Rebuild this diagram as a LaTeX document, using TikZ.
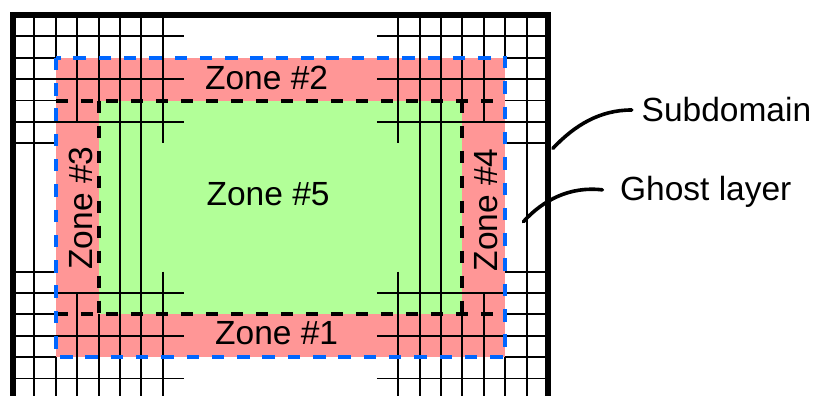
\documentclass[tikz,border=0pt]{standalone}
\usepackage{fontspec}
\setmainfont{Liberation Sans}
\definecolor{zonered}{RGB}{255,150,150}
\definecolor{zonegreen}{RGB}{178,255,152}
\definecolor{zoneblue}{RGB}{0,102,255}
\newcommand{\zonefont}{\fontsize{33.5}{40}\selectfont}
\tikzset{
  grid line/.style={line width=1.9pt, black},
  outer wall/.style={line width=5.6pt, black},
  ghost edge/.style={line width=3.6pt, draw=zoneblue, dash pattern=on 12.5pt off 12.8pt},
  zone edge/.style={line width=4pt, draw=black, dash pattern=on 12pt off 13pt},
  zone label/.style={font=\zonefont, inner sep=0pt, anchor=base},
  side label/.style={font=\zonefont, inner sep=0pt, anchor=base west},
  leader/.style={line width=3.6pt, line cap=round},
}
\begin{document}
\begin{tikzpicture}[x=21.4pt, y=-21.38pt]
  % page frame and clipping of the lower wall
  \useasboundingbox (-0.6075,-0.7016) rectangle (37.523,17.820);
  \clip (-0.6075,-0.7016) rectangle (37.523,17.820);

  % zone fills
  \fill[zonered] (2,2) rectangle (23,16);
  \fill[zonegreen] (4,4) rectangle (21,14);

  % vertical grid lines (left side and its mirror image on the right)
  \foreach \c/\ra/\rb in {1/0/18, 2/0/2, 2/16/18, 3/0/5, 3/13/18, 4/0/4, 4/14/18,
                          5/0/18, 6/0/18, 7/0/6, 7/12/18} {
    \draw[grid line] (\c,\ra) -- (\c,\rb);
    \draw[grid line] ({25-\c},\ra) -- ({25-\c},\rb);
  }
  % long horizontal grid lines
  \foreach \r in {1,3,5,13,15,17} {
    \draw[grid line] (0,\r) -- (8,\r);
    \draw[grid line] (17,\r) -- (25,\r);
  }
  % short horizontal grid lines in the ghost layer
  \foreach \r in {2,4,6,12,14,16} {
    \draw[grid line] (0,\r) -- (2,\r);
    \draw[grid line] (23,\r) -- (25,\r);
  }

  % zone boundaries
  \draw[zone edge] (2,4) -- (23,4);
  \draw[zone edge] (2,14) -- (23,14);
  \draw[zone edge] (4,4) -- (4,14);
  \draw[zone edge] (21,4) -- (21,14);
  \draw[ghost edge] (2,2) rectangle (23,16);

  % subdomain wall
  \draw[outer wall] (0,0) rectangle (25,18);

  % zone names
  \node[zone label] (z2) at (11.85,3.475) {Zone \#2};
  \node[zone label] (z5) at (11.92,8.89) {Zone \#5};
  \node[zone label] (z1) at (12.32,15.40) {Zone \#1};
  \node[zone label, rotate=90] (z3) at (3.738,9.03) {Zone \#3};
  \node[zone label, rotate=90] (z4) at (22.66,9.12) {Zone \#4};

  % side labels with their leaders
  \node[side label] (sub) at (29.37,4.99) {Subdomain};
  \node[side label] (ghost) at (28.36,8.67) {Ghost layer};
  \coordinate (subtip) at (25.23,6.235);
  \coordinate (ghosttip) at (23.85,9.668);
  \draw[leader] (subtip) .. controls (26.26,5.145) and (27.43,4.443)
    .. ([xshift=-9.8pt, yshift=11.7pt]sub.base west);
  \draw[leader] (ghosttip) .. controls (24.77,8.653) and (26.03,7.998)
    .. ([xshift=-17.5pt, yshift=10.5pt]ghost.base west);
\end{tikzpicture}
\end{document}
